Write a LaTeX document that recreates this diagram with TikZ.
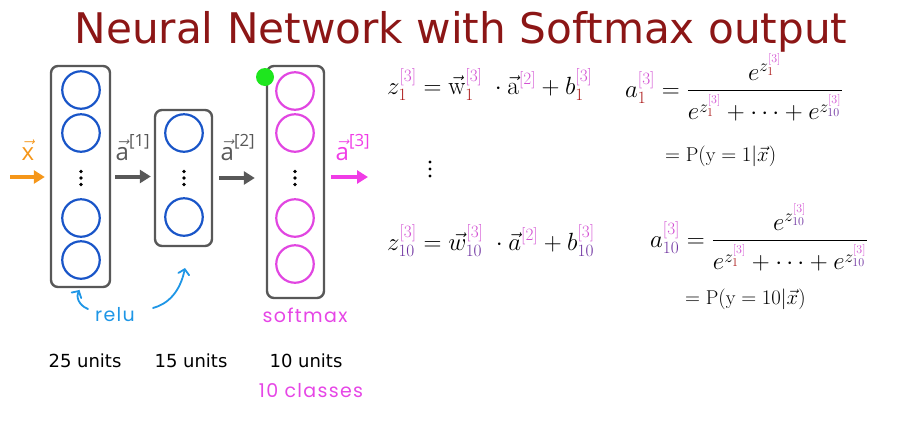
\documentclass[tikz,border=0pt]{standalone}
\usepackage{amsmath}
\usepackage{fontspec}
\usetikzlibrary{arrows.meta}
\newfontfamily\dejavu{DejaVu Sans}
\newfontfamily\opensans{Open Sans}
\newfontfamily\hand{Poppins}[LetterSpace=7]

\definecolor{titlered}{RGB}{140,22,22}
\definecolor{boxgray}{RGB}{88,88,88}
\definecolor{nnblue}{RGB}{25,85,200}
\definecolor{nnpink}{RGB}{225,70,225}
\definecolor{arrpink}{RGB}{240,60,230}
\definecolor{inorange}{RGB}{245,150,25}
\definecolor{handblue}{RGB}{30,150,230}
\definecolor{handpink}{RGB}{230,70,230}
\definecolor{dred}{RGB}{170,20,20}
\definecolor{purp}{RGB}{110,50,160}
\definecolor{supp}{RGB}{210,80,210}
\definecolor{marker}{RGB}{30,230,30}

% coloured indices of the equations
\newcommand\sone{\textcolor{dred}{1}}
\newcommand\sten{\textcolor{purp}{10}}
\newcommand\LL[1]{\textcolor{supp}{[#1]}}

\begin{document}
\begin{tikzpicture}[x=1pt,y=-1pt,
  layerbox/.style={draw=boxgray, line width=2.4pt, rounded corners=7pt, inner sep=0pt},
  bluecirc/.style={circle, draw=nnblue, line width=2.2pt, minimum size=37.5pt, inner sep=0pt},
  pinkcirc/.style={circle, draw=nnpink, line width=2.2pt, minimum size=37.5pt, inner sep=0pt},
  dotspot/.style={inner sep=0pt, minimum size=0pt},
  flow/.style={line width=4pt, -{Triangle[length=11pt,width=13pt]}},
  veclabel/.style={font=\opensans\fontsize{24}{28}\selectfont, inner sep=0pt, anchor=base},
  units/.style={font=\dejavu\fontsize{18}{22}\selectfont, inner sep=0pt, anchor=base},
  handtext/.style={font=\hand\fontsize{19}{22}\selectfont, inner sep=0pt, anchor=base},
  handarrow/.style={draw=handblue, line width=1.8pt, line cap=round, -{Straight Barb[length=5pt,width=11pt,line cap=round]}},
  eq/.style={font=\fontsize{25.5}{30}\selectfont, inner sep=0pt, anchor=base west},
  peq/.style={font=\fontsize{20}{24}\selectfont, inner sep=0pt, anchor=base west},
  fraceq/.style={font=\fontsize{23}{28}\selectfont, inner sep=0pt, anchor=base west}]
\useasboundingbox (0,0) rectangle (901,424);

% title
\node[font=\dejavu\fontsize{42.2}{48}\selectfont, text=titlered, inner sep=0pt, anchor=base]
  (title) at (461,43) {Neural Network with Softmax output};

% layer boxes
\node[layerbox, minimum width=59pt, minimum height=221pt] (L1) at (80.5,176.5) {};
\node[layerbox, minimum width=57pt, minimum height=136pt] (L2) at (183.5,178) {};
\node[layerbox, minimum width=57pt, minimum height=232pt] (L3) at (295.5,182) {};

% units of layer 1
\node[bluecirc] (u11) at (81,90) {};
\node[bluecirc] (u12) at (81,133) {};
\node[dotspot]  (d1)  at (81,178) {};
\node[bluecirc] (u13) at (81,218) {};
\node[bluecirc] (u14) at (81,260) {};
% units of layer 2
\node[bluecirc] (u21) at (184,133) {};
\node[dotspot]  (d2)  at (184,178) {};
\node[bluecirc] (u22) at (184,217) {};
% units of layer 3
\node[pinkcirc] (u31) at (295,91) {};
\node[pinkcirc] (u32) at (295,133) {};
\node[dotspot]  (d3)  at (295,178) {};
\node[pinkcirc] (u33) at (295,218) {};
\node[pinkcirc] (u34) at (295,264) {};

% vertical ellipses inside the boxes
\foreach \d in {d1,d2,d3}
  \foreach \dy in {-6.5,0,6.5}
    \fill[black] (\d) ++(0,\dy) circle (1.9pt);

% marker dot on the output box
\fill[marker] (265,77) circle (9pt);

% data flow between layers
\coordinate (xin) at (10,177);
\coordinate (yout) at (368,177);
\draw[flow, draw=inorange, shorten >=5pt] (xin) -- (xin -| L1.west);
\draw[flow, draw=boxgray, shorten <=4pt, shorten >=3pt] (L1.east) -- (L1.east -| L2.west);
\draw[flow, draw=boxgray, shorten <=6pt, shorten >=11pt] (L2.east) -- (L2.east -| L3.west);
\draw[flow, draw=arrpink, shorten <=6pt] (L3.east |- yout) -- (yout);

% vector labels
\node[veclabel, text=inorange] (xlab) at (28,160) {$\vec{\text{x}}$};
\node[veclabel, text=boxgray] (a1lab) at (133,160) {$\vec{\text{a}}^{\text{[1]}}$};
\node[veclabel, text=boxgray] (a2lab) at (238,160) {$\vec{\text{a}}^{\text{[2]}}$};
\node[veclabel, text=arrpink] (a3lab) at (353,160) {$\vec{\text{a}}^{\text{[3]}}$};

% activation notes
\node[handtext, text=handblue] (relu) at (115,321) {relu};
\node[handtext, text=handpink] (softmax) at (305,322) {softmax};
\coordinate (r1s) at (88,309);
\coordinate (r2s) at (153,308);
\coordinate (r2e) at (185,268);
\draw[handarrow, shorten >=2pt] (r1s) .. controls (78,305) and (76,296) .. (L1.south);
\draw[handarrow] (r2s) .. controls (168,304) and (180,292) .. (r2e);

% layer sizes
\node[units] (n1) at (85,367) {25 units};
\node[units] (n2) at (191,367) {15 units};
\node[units] (n3) at (306,367) {10 units};
\node[handtext, text=handpink] (cls) at (311,397) {10 classes};

% pre-activations
\node[eq] (z1) at (387,94)
  {$z_{\sone}^{\LL3} = \vec{\mathrm{w}}_{\sone}^{\LL3}\;\cdot\vec{\mathrm{a}}^{\LL2} + b_{\sone}^{\LL3}$};
\node[dotspot] (vd) at (430,169) {};
\foreach \dy in {-7,0,7}
  \fill[black] (vd) ++(0,\dy) circle (1.7pt);
\node[eq] (z10) at (387,250)
  {$z_{\sten}^{\LL3} = \vec{w}_{\sten}^{\LL3}\;\cdot\vec{a}^{\LL2} + b_{\sten}^{\LL3}$};

% softmax outputs
\node[fraceq] (a1) at (625,97)
  {$a_{\sone}^{\LL3} = \dfrac{e^{z_{\sone}^{\LL3}}}{e^{z_{\sone}^{\LL3}} + \cdots + e^{z_{\sten}^{\LL3}}}$};
\node[peq] (p1) at (665,161) {$= \mathrm{P}(\mathrm{y} = 1|\vec{x})$};
\node[fraceq] (a10) at (650,247)
  {$a_{\sten}^{\LL3} = \dfrac{e^{z_{\sten}^{\LL3}}}{e^{z_{\sone}^{\LL3}} + \cdots + e^{z_{\sten}^{\LL3}}}$};
\node[peq] (p10) at (685,304) {$= \mathrm{P}(\mathrm{y} = 10|\vec{x})$};
\end{tikzpicture}
\end{document}
